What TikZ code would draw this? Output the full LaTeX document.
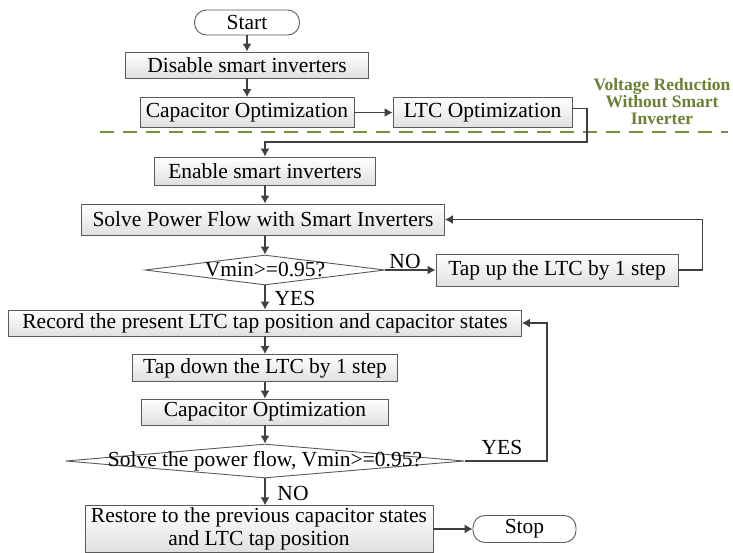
\documentclass[tikz,border=0pt]{standalone}
\usepackage{fontspec}
\setmainfont{Liberation Serif}
\usetikzlibrary{shapes.geometric,arrows.meta,positioning,calc}
\definecolor{edgegrey}{RGB}{90,90,90}
\definecolor{arrowgrey}{RGB}{64,64,64}
\definecolor{boxfade}{RGB}{224,224,224}
\definecolor{olivetext}{RGB}{106,128,52}
\definecolor{olivedash}{RGB}{118,146,60}

\begin{document}
\begin{tikzpicture}[x=1pt,y=-1pt,
  every node/.style={font=\fontsize{21.5}{23}\selectfont},
  box/.style={draw=edgegrey,line width=0.9pt,top color=white,bottom color=boxfade,
              inner sep=2pt,minimum height=27pt},
  term/.style={draw=edgegrey,line width=0.9pt,fill=white,rounded corners=12pt,
               inner sep=2pt,minimum height=25pt},
  dec/.style={diamond,draw=edgegrey,line width=0.9pt,fill=white,inner sep=0pt},
  lbl/.style={inner sep=0pt},
  ar/.style={-{Latex[length=8pt,width=9pt]},draw=arrowgrey,line width=1.2pt}]
\useasboundingbox (0,0) rectangle (733,552);
\fill[white] (0,0) rectangle (733,552);
\draw[olivedash,line width=1.6pt,dash pattern=on 14pt off 9pt] (100,132) -- (728,132);
\node[term,minimum width=105pt] (start) at (247,22.5) {Start};
\node[box,minimum width=243pt,minimum height=26pt] (dis) at (247,65) {Disable smart inverters};
\node[box,minimum width=214pt,minimum height=30pt] (cap1) at (247,112.5) {Capacitor Optimization};
\node[box,minimum width=179pt,minimum height=30pt] (ltc) at (482.5,112.5) {LTC Optimization};
\node[lbl,align=center,text=olivetext,font=\bfseries\fontsize{17.5}{17}\selectfont] (vrnote) at (662,102)
  {Voltage Reduction\\Without Smart\\Inverter};
\node[box,minimum width=221pt,minimum height=28pt] (en) at (265,171) {Enable smart inverters};
\node[box,minimum width=363pt,minimum height=31pt] (solve) at (263,219.5) {Solve Power Flow with Smart Inverters};
\node[dec,minimum width=240pt,minimum height=30pt] (d1) at (265,270) {};
\node[lbl] (d1txt) at (d1) {Vmin>=0.95?};
\node[box,minimum width=242pt,minimum height=32pt] (tapup) at (557,270) {Tap up the LTC by 1 step};
\node[box,minimum width=513pt,minimum height=26pt] (rec) at (265,323) {Record the present LTC tap position and capacitor states};
\node[box,minimum width=265pt] (tapdn) at (265,368) {Tap down the LTC by 1 step};
\node[box,minimum width=247pt,minimum height=26pt] (cap2) at (265,412) {Capacitor Optimization};
\node[dec,minimum width=399pt,minimum height=34pt] (d2) at (265,461) {};
\node[lbl] (d2txt) at (d2) {Solve the power flow, Vmin>=0.95?};
\node[box,align=center,minimum width=348pt,minimum height=43pt] (rest) at (259,529)
  {Restore to the previous capacitor states\\and LTC tap position};
\node[term,minimum width=103pt,minimum height=27pt] (stop) at (524.5,529) {Stop};
\node[lbl] (no1) at (405,261) {NO};
\node[lbl] (yes1) at (295,298) {YES};
\node[lbl] (yes2) at (502,447) {YES};
\node[lbl] (no2) at (293,493) {NO};
\coordinate (ltcbend) at (587,142);
\draw[ar] (start) -- (dis);
\draw[ar] (dis) -- (cap1);
\draw[ar] (cap1) -- (ltc);
\draw[ar] ([yshift=4pt]ltc.east) -| (ltcbend) -| (en.north);
\draw[ar] (en) -- (en |- solve.north);
\draw[ar] (solve.south -| d1) -- (d1);
\draw[ar] (d1.east) -- (tapup);
\draw[ar] (tapup.east) -- ++(24,0) |- (solve.east);
\draw[ar] (d1) -- (rec);
\draw[ar] (rec) -- (tapdn);
\draw[ar] (tapdn) -- (cap2);
\draw[ar] (cap2) -- (d2);
\draw[ar] (d2.east) -- ++(82,0) |- (rec.east);
\draw[ar] (d2.south) -- (d2.south |- rest.north);
\draw[ar] (rest) -- (stop);
\end{tikzpicture}
\end{document}
